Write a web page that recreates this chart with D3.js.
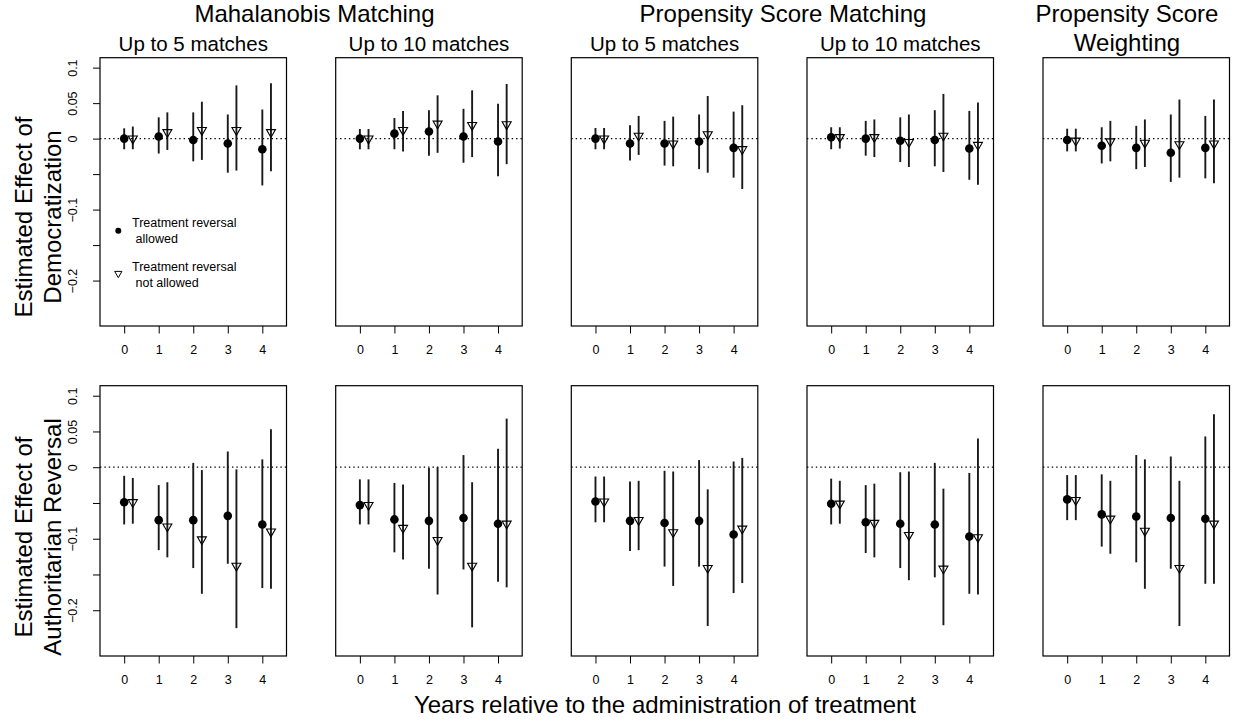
<!DOCTYPE html>
<html><head><meta charset="utf-8">
<script src="https://cdn.jsdelivr.net/npm/d3@7"></script>
<style>
html,body{margin:0;padding:0;background:#fff;}
svg{display:block;font-family:"Liberation Sans",Arial,Helvetica,sans-serif;}
</style></head>
<body>
<svg id="chart" width="1239" height="721"></svg>
<script>
// ---------- data ----------
const years = [0, 1, 2, 3, 4];
const groupTitles = ["Mahalanobis Matching", "Propensity Score Matching", "Propensity Score", "Weighting"];
const panelTitles = ["Up to 5 matches", "Up to 10 matches", "Up to 5 matches", "Up to 10 matches", ""];
const rowTitles = [["Estimated Effect of", "Democratization"], ["Estimated Effect of", "Authoritarian Reversal"]];
const xAxisTitle = "Years relative to the administration of treatment";
const yTicks = [0.1, 0.05, 0, -0.05, -0.1, -0.15, -0.2];
const yTickLabels = ["0.1", "0.05", "0", "", "\u22120.1", "", "\u22120.2"];
const legendLabels = [["Treatment reversal", " allowed"], ["Treatment reversal", " not allowed"]];

// Democratization — treatment reversal allowed (one row per panel)
const demoAllowedEst = [
  [0, 0.003, -0.002, -0.007, -0.015],
  [0, 0.007, 0.010, 0.003, -0.004],
  [0, -0.007, -0.007, -0.004, -0.013],
  [0.002, 0, -0.003, -0.002, -0.014],
  [-0.002, -0.010, -0.013, -0.020, -0.013]];
const demoAllowedLo = [
  [-0.015, -0.021, -0.032, -0.048, -0.066],
  [-0.015, -0.015, -0.024, -0.034, -0.053],
  [-0.015, -0.031, -0.038, -0.043, -0.055],
  [-0.015, -0.024, -0.033, -0.039, -0.058],
  [-0.018, -0.035, -0.043, -0.061, -0.056]];
const demoAllowedHi = [
  [0.0145, 0.030, 0.037, 0.034, 0.041],
  [0.0135, 0.029, 0.040, 0.042, 0.049],
  [0.015, 0.019, 0.025, 0.034, 0.038],
  [0.016, 0.025, 0.030, 0.040, 0.039],
  [0.014, 0.016, 0.018, 0.034, 0.032]];
// Democratization — treatment reversal not allowed
const demoNotEst = [
  [0, 0.009, 0.012, 0.012, 0.009],
  [0, 0.012, 0.021, 0.019, 0.020],
  [0, 0.004, -0.007, 0.006, -0.015],
  [0.002, 0.002, -0.005, 0.004, -0.009],
  [-0.003, -0.004, -0.006, -0.008, -0.007]];
const demoNotLo = [
  [-0.015, -0.016, -0.030, -0.045, -0.046],
  [-0.015, -0.018, -0.020, -0.026, -0.036],
  [-0.015, -0.023, -0.039, -0.048, -0.071],
  [-0.014, -0.026, -0.040, -0.047, -0.065],
  [-0.018, -0.032, -0.040, -0.055, -0.063]];
const demoNotHi = [
  [0.017, 0.037, 0.052, 0.075, 0.078],
  [0.0135, 0.039, 0.061, 0.068, 0.077],
  [0.015, 0.032, 0.031, 0.060, 0.047],
  [0.016, 0.027, 0.034, 0.063, 0.051],
  [0.014, 0.025, 0.027, 0.055, 0.055]];
// Authoritarian reversal — treatment reversal allowed
const authAllowedEst = [
  [-0.049, -0.074, -0.074, -0.068, -0.080],
  [-0.053, -0.073, -0.075, -0.071, -0.079],
  [-0.048, -0.075, -0.078, -0.075, -0.094],
  [-0.051, -0.077, -0.079, -0.080, -0.097],
  [-0.045, -0.066, -0.069, -0.071, -0.072]];
const authAllowedLo = [
  [-0.080, -0.116, -0.141, -0.135, -0.169],
  [-0.080, -0.119, -0.142, -0.143, -0.160],
  [-0.077, -0.117, -0.139, -0.139, -0.176],
  [-0.080, -0.120, -0.141, -0.154, -0.177],
  [-0.074, -0.111, -0.133, -0.142, -0.163]];
const authAllowedHi = [
  [-0.012, -0.025, 0.006, 0.022, 0.011],
  [-0.017, -0.022, -0.001, 0.017, 0.026],
  [-0.013, -0.020, -0.005, 0.010, 0.008],
  [-0.016, -0.025, -0.007, 0.006, -0.008],
  [-0.011, -0.010, 0.017, 0.015, 0.043]];
// Authoritarian reversal — treatment reversal not allowed
const authNotEst = [
  [-0.049, -0.083, -0.101, -0.138, -0.090],
  [-0.053, -0.085, -0.102, -0.138, -0.079],
  [-0.048, -0.074, -0.091, -0.141, -0.086],
  [-0.051, -0.078, -0.095, -0.142, -0.098],
  [-0.046, -0.072, -0.089, -0.141, -0.079]];
const authNotLo = [
  [-0.079, -0.126, -0.177, -0.225, -0.170],
  [-0.080, -0.129, -0.178, -0.224, -0.168],
  [-0.077, -0.116, -0.166, -0.222, -0.162],
  [-0.079, -0.126, -0.158, -0.221, -0.178],
  [-0.074, -0.121, -0.170, -0.222, -0.163]];
const authNotHi = [
  [-0.015, -0.021, -0.004, -0.003, 0.053],
  [-0.017, -0.024, 0, -0.021, 0.068],
  [-0.013, -0.019, -0.006, -0.031, 0.013],
  [-0.019, -0.023, -0.006, -0.030, 0.040],
  [-0.011, -0.019, 0.011, -0.019, 0.074]];

// ---------- layout ----------
const FONT = '"Liberation Sans",Arial,Helvetica,sans-serif';
const panelLeft = [100, 335.7, 571.3, 807, 1043];
const panelW = 186.5;
const rowsBox = [{top: 57.7, bottom: 326}, {top: 385.7, bottom: 656}];
const xDomain = [-0.7, 4.7];
const yDomain = [-0.264, 0.114];
const offset = 0.25;

const svg = d3.select("#chart");

const rows = [
  {aE: demoAllowedEst, aL: demoAllowedLo, aH: demoAllowedHi, nE: demoNotEst, nL: demoNotLo, nH: demoNotHi},
  {aE: authAllowedEst, aL: authAllowedLo, aH: authAllowedHi, nE: authNotEst, nL: authNotLo, nH: authNotHi}
];

function triPath(cx, cy, r) {
  const xc = r * 0.866, yc = r * 0.5;
  return `M${cx - xc},${cy - yc}L${cx + xc},${cy - yc}L${cx},${cy + r}Z`;
}

rows.forEach((row, ri) => {
  const box = rowsBox[ri];
  const y = d3.scaleLinear().domain(yDomain).range([box.bottom, box.top]);
  panelLeft.forEach((left, pi) => {
    const x = d3.scaleLinear().domain(xDomain).range([left, left + panelW]);
    const g = svg.append("g");

    // zero line
    g.append("line")
      .attr("x1", left).attr("x2", left + panelW)
      .attr("y1", y(0)).attr("y2", y(0))
      .attr("stroke", "#000").attr("stroke-width", 1.2)
      .attr("stroke-dasharray", "1.4,3");

    // x axis
    const xAxis = d3.axisBottom(x).tickValues(years).tickSize(7.5).tickPadding(12).tickFormat(d3.format("d"));
    const xg = g.append("g").attr("transform", `translate(0,${box.bottom})`).call(xAxis);
    xg.select(".domain").remove();
    xg.selectAll(".tick line").attr("stroke", "#000").attr("stroke-width", 1);
    xg.selectAll(".tick text").attr("font-family", FONT).attr("font-size", 12.5).attr("fill", "#000");

    // y axis (first panel only)
    if (pi === 0) {
      const yAxis = d3.axisLeft(y).tickValues(yTicks).tickSize(7).tickFormat((d, i) => yTickLabels[i]);
      const yg = g.append("g").attr("transform", `translate(${left},0)`).call(yAxis);
      yg.select(".domain").remove();
      yg.selectAll(".tick line").attr("stroke", "#000").attr("stroke-width", 1);
      yg.selectAll(".tick text")
        .attr("font-family", FONT).attr("font-size", 12.5).attr("fill", "#000")
        .attr("x", null).attr("dy", null)
        .attr("text-anchor", "middle")
        .attr("transform", "translate(-23,0) rotate(-90)");
    }

    // intervals
    years.forEach((yr, k) => {
      g.append("line")
        .attr("x1", x(yr)).attr("x2", x(yr))
        .attr("y1", y(row.aL[pi][k])).attr("y2", y(row.aH[pi][k]))
        .attr("stroke", "#1a1a1a").attr("stroke-width", 1.9);
      g.append("line")
        .attr("x1", x(yr + offset)).attr("x2", x(yr + offset))
        .attr("y1", y(row.nL[pi][k])).attr("y2", y(row.nH[pi][k]))
        .attr("stroke", "#1a1a1a").attr("stroke-width", 1.9);
    });
    // points
    years.forEach((yr, k) => {
      g.append("circle")
        .attr("cx", x(yr)).attr("cy", y(row.aE[pi][k])).attr("r", 4.3)
        .attr("fill", "#000");
      g.append("path")
        .attr("d", triPath(x(yr + offset), y(row.nE[pi][k]), 5.2))
        .attr("fill", "none").attr("stroke", "#000").attr("stroke-width", 1.1);
    });

    // box
    g.append("rect")
      .attr("x", left).attr("y", box.top)
      .attr("width", panelW).attr("height", box.bottom - box.top)
      .attr("fill", "none").attr("stroke", "#000").attr("stroke-width", 1.2);

    // panel subtitles (top row)
    if (ri === 0 && panelTitles[pi]) {
      svg.append("text")
        .attr("x", left + panelW / 2).attr("y", 51)
        .attr("text-anchor", "middle").attr("font-family", FONT).attr("font-size", 20.5)
        .text(panelTitles[pi]);
    }
  });

  // row y titles
  const cy = ri === 0 ? 217 : 537;
  rowTitles[ri].forEach((t, li) => {
    svg.append("text")
      .attr("transform", `translate(${li === 0 ? 32 : 61},${cy}) rotate(-90)`)
      .attr("text-anchor", "middle").attr("font-family", FONT).attr("font-size", 24)
      .text(t);
  });
});

// group titles
const gt = [
  {t: groupTitles[0], x: 314.5, y: 22},
  {t: groupTitles[1], x: 783, y: 22},
  {t: groupTitles[2], x: 1127, y: 22},
  {t: groupTitles[3], x: 1127, y: 51}
];
gt.forEach(d => {
  svg.append("text").attr("x", d.x).attr("y", d.y)
    .attr("text-anchor", "middle").attr("font-family", FONT)
    .attr("font-size", 24)
    .text(d.t);
});

// x axis title
svg.append("text").attr("x", 665).attr("y", 713)
  .attr("text-anchor", "middle").attr("font-family", FONT).attr("font-size", 24)
  .text(xAxisTitle);

// legend (first top panel)
const legG = svg.append("g");
const legX = 118.3;
legG.append("circle").attr("cx", legX).attr("cy", 230.7).attr("r", 3).attr("fill", "#000");
legG.append("path").attr("d", triPath(legX, 273.5, 4.2)).attr("fill", "none").attr("stroke", "#000").attr("stroke-width", 1);
[[227, 243], [271, 287]].forEach((ys, i) => {
  legendLabels[i].forEach((t, j) => {
    legG.append("text").attr("x", 132).attr("y", ys[j])
      .attr("font-family", FONT).attr("font-size", 12.5)
      .style("white-space", "pre")
      .text(t);
  });
});
</script>
</body></html>
